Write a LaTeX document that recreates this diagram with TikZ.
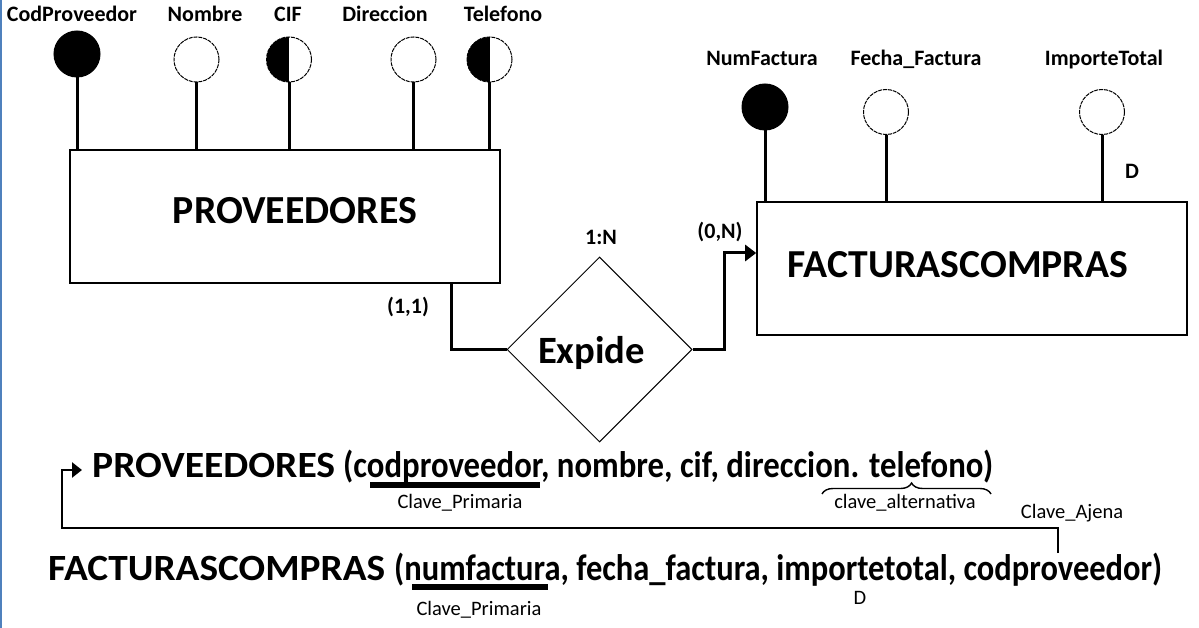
\documentclass[tikz,border=0pt]{standalone}
\usepackage{fontspec}
\setmainfont{Carlito}
\usetikzlibrary{arrows.meta,decorations.pathreplacing,shapes.geometric}
\definecolor{edgeblue}{RGB}{79,129,189}
\newcommand{\schfont}{\fontsize{37}{40}\selectfont\bfseries}
\begin{document}
\begin{tikzpicture}[x=1pt,y=-1pt,
  ent/.style={draw=black, line width=1.6pt, fill=white, inner sep=0pt},
  relshape/.style={diamond, aspect=1, draw=black, line width=1pt, fill=white, inner sep=0pt, minimum width=185pt, minimum height=185pt},
  attrlbl/.style={font=\fontsize{22}{24}\selectfont\bfseries, inner sep=0pt},
  smalllbl/.style={font=\fontsize{20.5}{22}\selectfont, inner sep=0pt},
  stem/.style={line width=3pt},
  conn/.style={line width=3pt},
  fkline/.style={line width=2.6pt},
  keycirc/.style={circle, fill=black, draw=black, line width=1pt, minimum size=46pt, inner sep=0pt},
  opencirc/.style={circle, draw=black, line width=1pt, dash pattern=on 4pt off 0.9pt, fill=white, minimum size=45pt, inner sep=0pt},
  halfcirc/.style={opencirc, path picture={\fill[black] (path picture bounding box.south west) rectangle (path picture bounding box.north);}},
  keybar/.style={fill=black},
]
\useasboundingbox (0,0) rectangle (1199,628);
\fill[white] (0,0) rectangle (1199,628);
\fill[edgeblue] (0,0) rectangle (2.2,628);

% ---------- PROVEEDORES entity ----------
\node[ent, minimum width=430pt, minimum height=133pt] (prov) at (285,216.5) {};
\node[inner sep=0pt] (provT) at (295,211) {\resizebox{244pt}{!}{\bfseries PROVEEDORES}};

\node[keycirc] (cp) at (77,54) {};
\node[opencirc] (nom) at (196.5,59.5) {};
\node[halfcirc] (cif) at (289,59.5) {};
\node[opencirc] (dir) at (413.5,59.5) {};
\node[halfcirc] (tel) at (489.5,59.5) {};

\foreach \a in {cp,nom,cif,dir,tel}{
  \draw[stem] (\a.south) -- (\a.south |- prov.north);
}

\node[attrlbl, anchor=base] (cpL) at (72,22) {CodProveedor};
\node[attrlbl, anchor=base] (nomL) at (205,22) {Nombre};
\node[attrlbl, anchor=base] (cifL) at (288,22) {CIF};
\node[attrlbl, anchor=base] (dirL) at (385,22) {Direccion};
\node[attrlbl, anchor=base] (telL) at (503,22) {Telefono};

% ---------- FACTURASCOMPRAS entity ----------
\node[ent, minimum width=430pt, minimum height=133pt] (fact) at (972,268.5) {};
\node[inner sep=0pt] (factT) at (958,265) {\resizebox{340pt}{!}{\bfseries FACTURASCOMPRAS}};

\node[keycirc] (nf) at (765,107) {};
\node[opencirc] (ff) at (886,112) {};
\node[opencirc] (it) at (1102,112) {};
\foreach \a in {nf,ff,it}{
  \draw[stem] (\a.south) -- (\a.south |- fact.north);
}
\node[attrlbl, anchor=base] (nfL) at (762,66) {NumFactura};
\node[attrlbl, anchor=base] (ffL) at (916,66) {Fecha\_Factura};
\node[attrlbl, anchor=base] (itL) at (1104,66) {ImporteTotal};
\node[attrlbl, anchor=base] (dTop) at (1132,179) {D};

% ---------- relationship ----------
\node[relshape] (rel) at (599.5,349.5) {};
\node[inner sep=0pt] (relT) at (591.5,353) {\resizebox{107pt}{!}{\bfseries Expide}};
\node[attrlbl, anchor=base] (card) at (601,245) {1:N};
\node[attrlbl] (c11) at (408,307) {(1,1)};
\node[attrlbl] (c0n) at (720,232) {(0,N)};

\draw[conn] (prov.south west) ++(382,0) |- (rel.west);
\draw[conn, -{Triangle[length=11pt,width=16pt]}] (rel.east) -- ++(32,0) |- ([yshift=15.5pt]fact.west);

% ---------- relational schema ----------
\node[anchor=base west, inner sep=0pt, font=\schfont] (sch1) at (92,477)
  {\resizebox{243pt}{\height}{PROVEEDORES}\hspace{8pt}\resizebox{650pt}{\height}{(codproveedor, nombre, cif, direccion. telefono)}};
\node[anchor=base west, inner sep=0pt, font=\schfont] (sch2) at (48,580)
  {\resizebox{337pt}{\height}{FACTURASCOMPRAS}\hspace{9pt}\resizebox{768pt}{\height}{(numfactura, fecha\_factura, importetotal, codproveedor)}};

\fill[keybar] (370,482) rectangle (540,488);
\node[smalllbl] (pk1) at (460,503) {Clave\_Primaria};
\fill[keybar] (412,583.5) rectangle (548,590);
\node[smalllbl] (pk2) at (479,610) {Clave\_Primaria};

\draw[line width=1.4pt, decorate, decoration={brace, amplitude=11pt, aspect=0.53}] (822,494) -- (991,494);
\node[smalllbl] (ak) at (905,503) {clave\_alternativa};

\node[smalllbl] (fkL) at (1072,513) {Clave\_Ajena};
\node[smalllbl] (dBot) at (860,598) {D};

\coordinate (fk) at (1058,553);
\coordinate (pkref) at (82,470);
\draw[fkline, -{Triangle[length=10pt,width=15pt]}] (fk) -- ++(0,-25) -| ([xshift=-20pt]pkref) -- (pkref);
\end{tikzpicture}
\end{document}
